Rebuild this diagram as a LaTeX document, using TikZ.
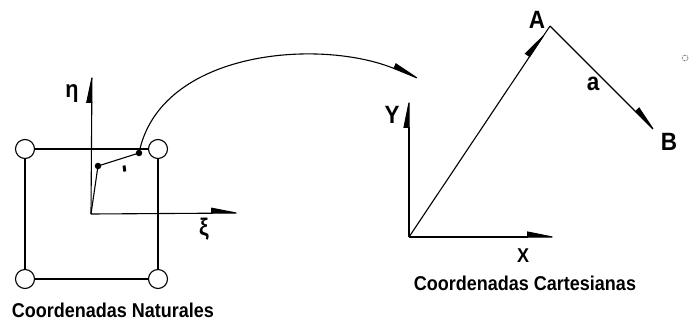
\documentclass[tikz,border=0pt]{standalone}
\usepackage{fontspec}
\usetikzlibrary{arrows.meta,decorations.markings}
\newfontfamily\figfont[FakeStretch=0.9]{Liberation Sans}
\tikzset{
    edge/.style={line width=1.1pt, black},
    harp/.style={-{Triangle[harpoon,length=28pt,width=11pt]}},
    nodo/.style={circle, draw, line width=1.1pt, fill=white, minimum size=19pt, inner sep=0pt},
    punto/.style={circle, fill, inner sep=0pt, minimum size=6.5pt},
    txt/.style={font=\figfont\bfseries\fontsize{20}{22}\selectfont, inner sep=0pt, anchor=base},
    lbl/.style={font=\figfont\bfseries\fontsize{25}{28}\selectfont, inner sep=0pt, anchor=base},
}
\begin{document}
\begin{tikzpicture}[x=1pt,y=-1pt]
    \useasboundingbox (0,0) rectangle (696,322);
    % coordenadas naturales
    \coordinate (C0) at (91,214);
    \coordinate (Ceta) at (92,72);
    \coordinate (Cxi) at (242,213);
    \draw[edge, harp] (C0) -- (Ceta);
    \draw[edge, harp] (C0) -- (Cxi);
    \node[nodo] (N1) at (25,279) {};
    \node[nodo] (N2) at (158,279) {};
    \node[nodo] (N3) at (158,149) {};
    \node[nodo] (N4) at (25,149) {};
    \draw[edge] (N1) -- (N2);
    \draw[edge] (N2) -- (N3);
    \draw[edge] (N3) -- (N4);
    \draw[edge] (N4) -- (N1);
    \node[punto] (P1) at (98,166) {};
    \node[punto] (P2) at (139,153) {};
    \draw[edge] (C0) -- (P1.center) -- (P2.center);
    \draw[line width=3pt] (124,165.5) -- (124.8,171.5);
    \node[font=\figfont\bfseries\fontsize{24}{26}\selectfont, inner sep=0pt] (eta) at (72,94) {η};
    \node[font=\figfont\bfseries\fontsize{24}{26}\selectfont, inner sep=0pt] (xi) at (204,229) {ξ};
    \node[txt] (nat) at (113,317) {Coordenadas Naturales};
    % transformacion
    \coordinate (T) at (422,80);
    \draw[edge, harp] (P2.center) .. controls (160,50) and (320,38) .. (T);
    % coordenadas cartesianas
    \coordinate (O) at (409,237);
    \coordinate (Y) at (409,97);
    \coordinate (X) at (558,237);
    \coordinate (A) at (550,26);
    \coordinate (B) at (657,133);
    \draw[edge, harp] (O) -- (Y);
    \draw[edge, harp] (O) -- (X);
    \draw[edge, postaction={decorate}, decoration={markings,
        mark=at position 0.975 with {\arrow{Triangle[harpoon,length=28pt,width=11pt]}}}] (O) -- (A);
    \draw[edge, harp] (A) -- (B);
    \node[lbl] (lY) at (392,123) {Y};
    \node[txt] (lX) at (523,262) {X};
    \node[lbl] (lA) at (537,28) {A};
    \node[lbl] (lB) at (669,150) {B};
    \node[lbl] (la) at (593,90) {a};
    \node[txt] (cart) at (525,290) {Coordenadas Cartesianas};
    \draw[densely dotted, line width=0.6pt] (685,58) circle (3);
\end{tikzpicture}
\end{document}
